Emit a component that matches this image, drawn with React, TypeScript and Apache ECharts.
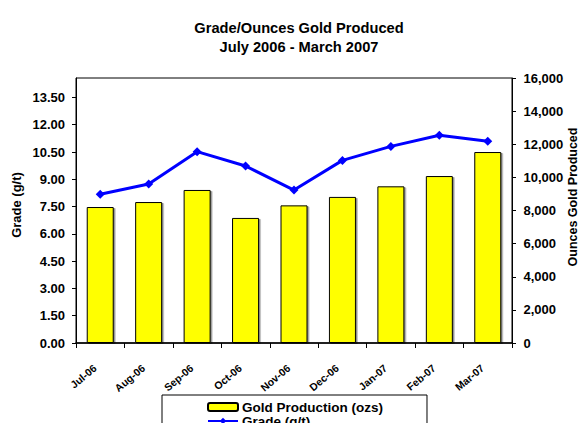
import React, { useEffect, useRef } from "react";
import * as echarts from "echarts";

const categories = ["Jul-06", "Aug-06", "Sep-06", "Oct-06", "Nov-06", "Dec-06", "Jan-07", "Feb-07", "Mar-07"];
const ouncesProduced = [8210, 8510, 9240, 7550, 8310, 8820, 9460, 10080, 11530];
const gradeValues = [8.18, 8.74, 10.52, 9.73, 8.41, 10.04, 10.81, 11.42, 11.09];

const FONT = "Liberation Sans, Arial, sans-serif";

export default function App() {
  const ref = useRef<HTMLDivElement>(null);
  useEffect(() => {
    if (!ref.current) return;
    const chart = echarts.init(ref.current, undefined, { renderer: "svg" });
    chart.setOption({
      animation: false,
      backgroundColor: "#ffffff",
      textStyle: { fontFamily: FONT },
      title: {
        text: "Grade/Ounces Gold Produced\nJuly 2006 - March 2007",
        left: 294,
        textAlign: "center",
        top: 13,
        textStyle: { fontFamily: FONT, fontSize: 14.67, fontWeight: "bold", color: "#000", lineHeight: 19.5 },
      },
      grid: { left: 76, right: 73, top: 78, bottom: 80, show: true, borderColor: "#000", borderWidth: 1, backgroundColor: "transparent" },
      legend: {
        orient: "vertical",
        left: 162,
        top: 395,
        height: 60,
        padding: [5, 44, 6, 45],
        itemGap: 0,
        itemWidth: 30,
        itemHeight: 8,
        borderColor: "#000",
        borderWidth: 1,
        backgroundColor: "#fff",
        borderRadius: 0,
        textStyle: { fontFamily: FONT, fontSize: 13.5, fontWeight: "bold", color: "#000", padding: [0, 0, 0, -1] },
        data: ["Gold Production (ozs)", "Grade (g/t)"],
      },
      graphic: [
        {
          type: "text",
          x: 16,
          y: 205,
          rotation: Math.PI / 2,
          style: { text: "Grade (g/t)", fontFamily: FONT, fontSize: 13, fontWeight: "bold", fill: "#000", align: "center", verticalAlign: "middle" },
        },
        {
          type: "text",
          x: 573,
          y: 197,
          rotation: Math.PI / 2,
          style: { text: "Ounces Gold Produced", fontFamily: FONT, fontSize: 12.5, fontWeight: "bold", fill: "#000", align: "center", verticalAlign: "middle" },
        },
      ],
      xAxis: {
        type: "category",
        data: categories,
        axisLine: { lineStyle: { color: "#000", width: 1.5 } },
        axisTick: { show: true, length: 5, lineStyle: { color: "#000" } },
        axisLabel: { rotate: 40, interval: 0, margin: 19, padding: [0, 7, 0, 0], fontFamily: FONT, fontSize: 10.5, fontWeight: "bold", color: "#000" },
        splitLine: { show: false },
      },
      yAxis: [
        {
          type: "value",
          position: "left",
          min: 0,
          max: 14.57,
          interval: 1.5,
          axisLine: { show: true, lineStyle: { color: "#000", width: 1 } },
          axisTick: { show: true, length: 4, lineStyle: { color: "#000" } },
          axisLabel: {
            margin: 11,
            showMaxLabel: false,
            formatter: (v: number) => v.toFixed(2),
            fontFamily: FONT,
            fontSize: 13,
            fontWeight: "bold",
            color: "#000",
          },
          splitLine: { show: false },
        },
        {
          type: "value",
          position: "right",
          min: 0,
          max: 16000,
          interval: 2000,
          axisLine: { show: true, lineStyle: { color: "#000", width: 1 } },
          axisTick: { show: true, length: 4, lineStyle: { color: "#000" } },
          axisLabel: {
            margin: 11.5,
            formatter: (v: number) => v.toLocaleString("en-US"),
            fontFamily: FONT,
            fontSize: 13,
            fontWeight: "bold",
            color: "#000",
          },
          splitLine: { show: false },
        },
      ],
      series: [
        {
          name: "Gold Production (ozs)",
          type: "bar",
          yAxisIndex: 1,
          data: ouncesProduced,
          barWidth: 27,
          itemStyle: {
            color: "#FFFF00",
            borderColor: "#000",
            borderWidth: 1,
            shadowColor: "rgba(0,0,0,0.45)",
            shadowOffsetX: 1.5,
            shadowOffsetY: 1,
            shadowBlur: 0,
          },
        },
        {
          name: "Grade (g/t)",
          type: "line",
          yAxisIndex: 0,
          data: gradeValues,
          symbol: "diamond",
          symbolSize: 9,
          lineStyle: { color: "#0000FF", width: 3 },
          itemStyle: { color: "#0000FF" },
        },
      ],
    });
    return () => chart.dispose();
  }, []);
  return <div ref={ref} style={{ position: "fixed", left: 0, top: 0, width: 585, height: 423 }} />;
}
